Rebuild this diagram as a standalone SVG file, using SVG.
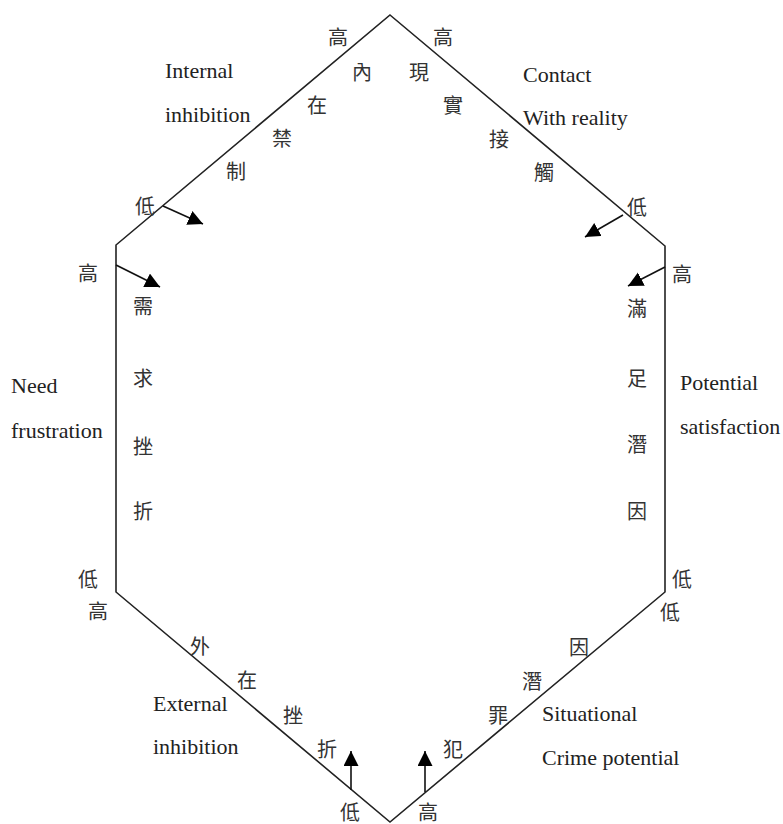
<svg xmlns="http://www.w3.org/2000/svg" width="783" height="824" viewBox="0 0 783 824">
<style>
.en{font-family:"Liberation Serif","Times New Roman",serif;font-size:22px;fill:#222}
.zh{font-family:"Noto Sans CJK TC","Noto Sans CJK SC",sans-serif;font-size:20px;fill:#333;text-anchor:middle;dominant-baseline:central}
.edge{fill:none;stroke:#222;stroke-width:1.6}
.arr{fill:none;stroke:#111;stroke-width:1.6;marker-end:url(#ah)}
</style>
<defs>
<marker id="ah" markerUnits="userSpaceOnUse" markerWidth="16" markerHeight="16" refX="15" refY="7.5" orient="auto" viewBox="0 0 16 16">
<path d="M0,0 L15,7.5 L0,15 z" fill="#000"/>
</marker>
</defs>
<rect width="783" height="824" fill="#fff"/>
<g id="hexagon">
<polygon class="edge" points="390,15 665,246 665,592 390,822 116,592 116,245"/>
</g>
<g id="internal-inhibition">
<text class="zh" x="338" y="36">高</text>
<text class="zh" x="362" y="71">內</text>
<text class="zh" x="317" y="104">在</text>
<text class="zh" x="282" y="137">禁</text>
<text class="zh" x="236" y="170">制</text>
<text class="zh" x="145" y="205">低</text>
<text class="en" x="165" y="78">Internal</text>
<text class="en" x="165" y="122">inhibition</text>
</g>
<g id="contact-with-reality">
<text class="zh" x="443" y="36">高</text>
<text class="zh" x="419" y="71">現</text>
<text class="zh" x="453" y="104">實</text>
<text class="zh" x="499" y="138">接</text>
<text class="zh" x="544" y="171">觸</text>
<text class="zh" x="637" y="206">低</text>
<text class="en" x="523" y="82">Contact</text>
<text class="en" x="523" y="125">With reality</text>
</g>
<g id="need-frustration">
<text class="zh" x="88" y="272">高</text>
<text class="zh" x="143" y="305">需</text>
<text class="zh" x="143" y="377">求</text>
<text class="zh" x="143" y="445">挫</text>
<text class="zh" x="143" y="510">折</text>
<text class="zh" x="88" y="578">低</text>
<text class="en" x="11" y="393">Need</text>
<text class="en" x="11" y="438">frustration</text>
</g>
<g id="potential-satisfaction">
<text class="zh" x="682" y="273">高</text>
<text class="zh" x="637" y="307">滿</text>
<text class="zh" x="637" y="377">足</text>
<text class="zh" x="637" y="443">潛</text>
<text class="zh" x="637" y="510">因</text>
<text class="zh" x="682" y="578">低</text>
<text class="en" x="680" y="390">Potential</text>
<text class="en" x="680" y="434">satisfaction</text>
</g>
<g id="external-inhibition">
<text class="zh" x="98" y="610">高</text>
<text class="zh" x="200" y="645">外</text>
<text class="zh" x="247" y="679">在</text>
<text class="zh" x="293" y="714">挫</text>
<text class="zh" x="327" y="748">折</text>
<text class="zh" x="350" y="811">低</text>
<text class="en" x="153" y="711">External</text>
<text class="en" x="153" y="754">inhibition</text>
</g>
<g id="situational-crime-potential">
<text class="zh" x="670" y="611">低</text>
<text class="zh" x="579" y="646">因</text>
<text class="zh" x="532" y="680">潛</text>
<text class="zh" x="498" y="714">罪</text>
<text class="zh" x="453" y="748">犯</text>
<text class="zh" x="428" y="811">高</text>
<text class="en" x="542" y="721">Situational</text>
<text class="en" x="542" y="765">Crime potential</text>
</g>
<g id="connectors">
<line class="arr" x1="163" y1="206" x2="203" y2="224"/>
<line class="arr" x1="116" y1="265" x2="160" y2="287"/>
<line class="arr" x1="623" y1="215" x2="585" y2="237"/>
<line class="arr" x1="665" y1="267" x2="628" y2="286"/>
<line class="arr" x1="351" y1="790" x2="351" y2="751"/>
<line class="arr" x1="425" y1="792" x2="425" y2="751"/>
</g>
</svg>
